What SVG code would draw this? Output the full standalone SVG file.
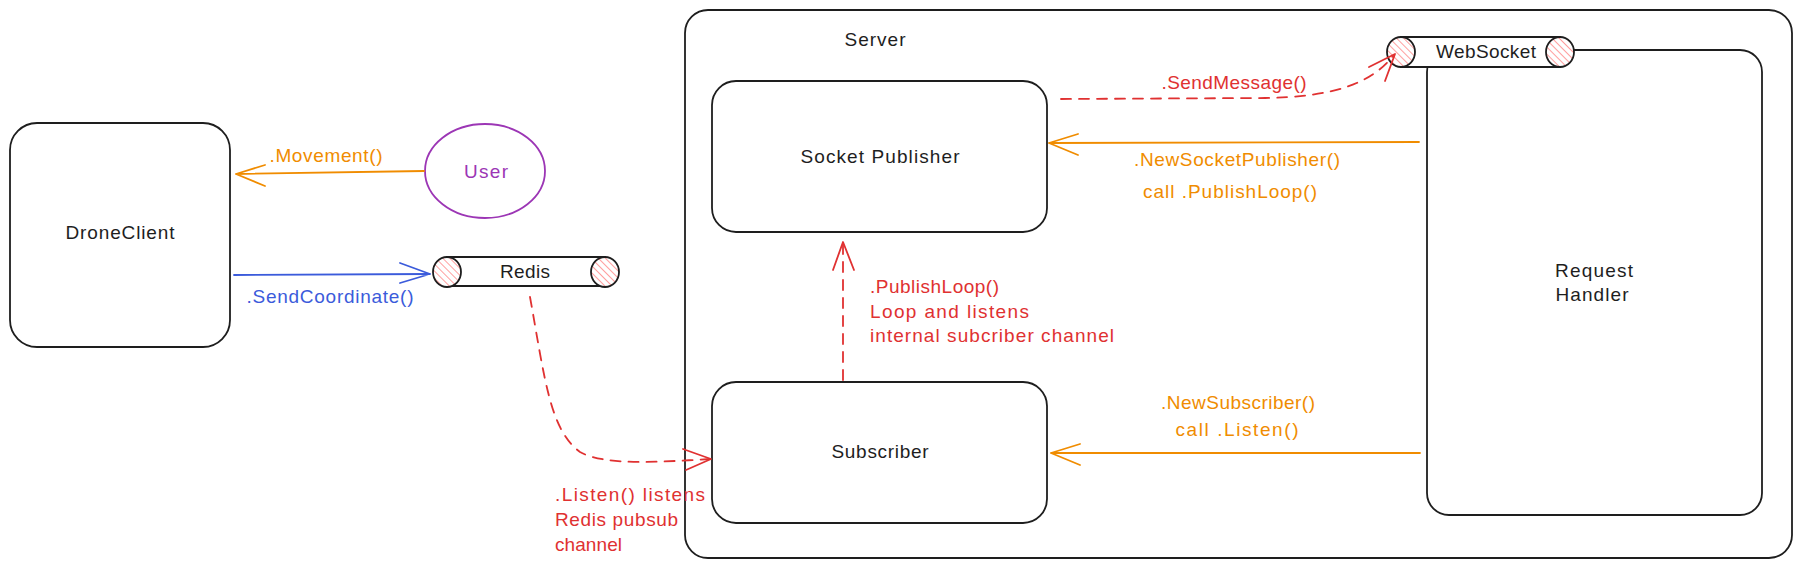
<svg xmlns="http://www.w3.org/2000/svg" width="1802" height="568" viewBox="0 0 1802 568">
<defs>
<pattern id="hatch" patternUnits="userSpaceOnUse" width="5" height="5" patternTransform="rotate(-45)">
<rect width="5" height="5" fill="#fff"/>
<line x1="0" y1="0" x2="0" y2="5" stroke="#ff8787" stroke-width="1.6"/>
</pattern>
<style>
.box{fill:#fff;stroke:#1e1e1e;stroke-width:1.8}
.t{font-family:"Liberation Sans",Arial,sans-serif;font-size:19px;fill:#1e1e1e}
.c{text-anchor:middle}
.red{fill:#e03131}
.org{fill:#f08c00}
.blu{fill:#3b5bdb}
.pur{fill:#9c36b5}
.ln{fill:none;stroke-width:1.8;stroke-linecap:round;stroke-linejoin:round}
</style>
</defs>
<rect width="1802" height="568" fill="#fff"/>

<g id="server">
<rect class="box" x="685" y="10" width="1107" height="548" rx="23"/>
<text class="t c" x="875" y="46" textLength="61">Server</text>
</g>

<g id="droneclient">
<rect class="box" x="10" y="123" width="220" height="224" rx="27"/>
<text class="t c" x="120" y="239" textLength="109">DroneClient</text>
</g>

<g id="user">
<ellipse cx="485" cy="171" rx="60" ry="47" fill="#fff" stroke="#9c36b5" stroke-width="1.8"/>
<text class="t c pur" x="486" y="178" textLength="44">User</text>
</g>

<g id="redis">
<path d="M447 257 L605 257 L605 286 L447 286 Z" class="box"/>
<ellipse cx="447" cy="272" rx="14" ry="15" fill="url(#hatch)" stroke="#1e1e1e" stroke-width="1.8"/>
<ellipse cx="605" cy="272" rx="14" ry="15" fill="url(#hatch)" stroke="#1e1e1e" stroke-width="1.8"/>
<text class="t c" x="525" y="278" textLength="50">Redis</text>
</g>

<g id="socketpublisher">
<rect class="box" x="712" y="81" width="335" height="151" rx="24"/>
<text class="t c" x="880" y="163" textLength="159">Socket Publisher</text>
</g>

<g id="subscriber">
<rect class="box" x="712" y="382" width="335" height="141" rx="24"/>
<text class="t c" x="880" y="458" textLength="97">Subscriber</text>
</g>

<g id="requesthandler">
<rect class="box" x="1427" y="50" width="335" height="465" rx="22"/>
<text class="t c" x="1594" y="277" textLength="78">Request</text>
<text class="t c" x="1592" y="301" textLength="73">Handler</text>
</g>

<g id="websocket">
<path d="M1401 37 L1560 37 L1560 67 L1401 67 Z" class="box"/>
<ellipse cx="1401" cy="52" rx="14" ry="15" fill="url(#hatch)" stroke="#1e1e1e" stroke-width="1.8"/>
<ellipse cx="1560" cy="52" rx="14" ry="15" fill="url(#hatch)" stroke="#1e1e1e" stroke-width="1.8"/>
<text class="t c" x="1486" y="58" textLength="100">WebSocket</text>
</g>

<g id="connectors">
<!-- User -> DroneClient -->
<path class="ln" stroke="#f08c00" d="M424 171 L236 174 M265 165 L236 174 L265 186"/>
<text class="t c org" x="326" y="162" textLength="113">.Movement()</text>

<!-- DroneClient -> Redis -->
<path class="ln" stroke="#3b5bdb" d="M234 275 L430 274 M400 263 L430 274 L400 283"/>
<text class="t c blu" x="330" y="303" textLength="167">.SendCoordinate()</text>

<!-- Redis -> Subscriber -->
<path class="ln" stroke="#e03131" stroke-dasharray="10 8" d="M530 297 C545 380 550 430 580 452 C605 466 660 462 710 459"/>
<path class="ln" stroke="#e03131" d="M683 449 L711 459 L686 470"/>
<text class="t red" x="555" y="501" textLength="150">.Listen() listens</text>
<text class="t red" x="555" y="526" textLength="123">Redis pubsub</text>
<text class="t red" x="555" y="551" textLength="67">channel</text>

<!-- Subscriber -> Socket Publisher -->
<path class="ln" stroke="#e03131" stroke-dasharray="10 8" d="M843 380 L843 244"/>
<path class="ln" stroke="#e03131" d="M833 270 L843 242 L854 270"/>
<text class="t red" x="870" y="293" textLength="129">.PublishLoop()</text>
<text class="t red" x="870" y="318" textLength="159">Loop and listens</text>
<text class="t red" x="870" y="342" textLength="244">internal subcriber channel</text>

<!-- Socket Publisher -> WebSocket -->
<path class="ln" stroke="#e03131" stroke-dasharray="10 8" d="M1061 99 L1265 98 C1330 97 1370 85 1393 56"/>
<path class="ln" stroke="#e03131" d="M1369 67 L1395 54 L1385 81"/>
<text class="t c red" x="1234" y="89" textLength="145">.SendMessage()</text>

<!-- Request Handler -> Socket Publisher -->
<path class="ln" stroke="#f08c00" d="M1419 142 L1049 143 M1078 134 L1049 143 L1078 155"/>
<text class="t c org" x="1237" y="166" textLength="206">.NewSocketPublisher()</text>
<text class="t c org" x="1230" y="198" textLength="174">call .PublishLoop()</text>

<!-- Request Handler -> Subscriber -->
<path class="ln" stroke="#f08c00" d="M1420 453 L1051 453 M1080 444 L1051 453 L1080 465"/>
<text class="t c org" x="1238" y="409" textLength="154">.NewSubscriber()</text>
<text class="t c org" x="1237" y="436" textLength="123">call .Listen()</text>
</g>
</svg>
